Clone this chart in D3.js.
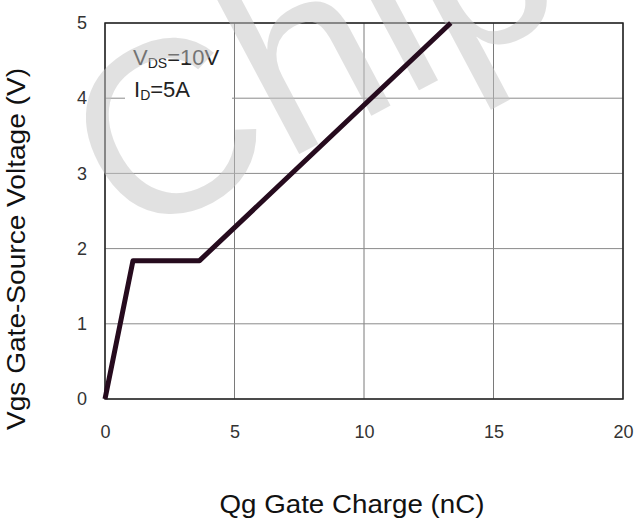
<!DOCTYPE html>
<html>
<head>
<meta charset="utf-8">
<script src="https://cdn.jsdelivr.net/npm/d3@7"></script>
<style>
  body { margin: 0; background: #fff; }
  text { font-family: "Liberation Sans", Arial, sans-serif; }
</style>
</head>
<body>
<script>
// gate charge curve
var qg = [0, 1.08, 3.65, 13.35];
var vgs = [0, 1.84, 1.84, 5];
var xTicks = [0, 5, 10, 15, 20];
var yTicks = [0, 1, 2, 3, 4, 5];

var width = 636, height = 520;
var margin = {top: 23, right: 13, bottom: 121, left: 105};

var svg = d3.select("body")
            .append("svg")
            .attr("width", width)
            .attr("height", height);

var x = d3.scaleLinear().domain([0, 20]).range([margin.left, width - margin.right]);
var y = d3.scaleLinear().domain([0, 5]).range([height - margin.bottom, margin.top]);

// grid
svg.append("g")
   .selectAll("line")
   .data(xTicks)
   .enter()
   .append("line")
   .attr("x1", function(d) {return x(d)})
   .attr("x2", function(d) {return x(d)})
   .attr("y1", y(0))
   .attr("y2", y(5))
   .style("stroke", "#7a7a7a")
   .style("stroke-width", 1);

svg.append("g")
   .selectAll("line")
   .data(yTicks)
   .enter()
   .append("line")
   .attr("x1", x(0))
   .attr("x2", x(20))
   .attr("y1", function(d) {return y(d)})
   .attr("y2", function(d) {return y(d)})
   .style("stroke", "#8a8a8a")
   .style("stroke-width", 1);

// white box behind the test conditions
svg.append("rect")
   .attr("x", 125)
   .attr("y", y(5) + 1)
   .attr("width", 107)
   .attr("height", 77)
   .style("fill", "#fff");

// frame
svg.append("rect")
   .attr("x", x(0))
   .attr("y", y(5))
   .attr("width", x(20) - x(0))
   .attr("height", y(0) - y(5))
   .style("fill", "none")
   .style("stroke", "#222")
   .style("stroke-width", 1.5);

// conditions
var note = svg.append("g").style("font-size", "22px").style("fill", "#222");
var t1 = note.append("text").attr("x", 133).attr("y", 65);
t1.append("tspan").text("V");
t1.append("tspan").attr("dy", 3).style("font-size", "14px").text("DS");
t1.append("tspan").attr("dy", -3).text("=10V");
var t2 = note.append("text").attr("x", 134).attr("y", 97);
t2.append("tspan").text("I");
t2.append("tspan").attr("dy", 3).style("font-size", "14px").text("D");
t2.append("tspan").attr("dy", -3).text("=5A");

// watermark
svg.append("text")
   .attr("x", 128)
   .attr("y", 245)
   .attr("transform", "rotate(-28, 128, 245)")
   .style("font-size", "245px")
   .style("fill", "#c4c4c4")
   .style("opacity", 0.5)
   .text("Chip");

// curve
var line = d3.line()
             .x(function(d) {return x(d[0])})
             .y(function(d) {return y(d[1])});

svg.append("path")
   .datum(qg.map(function(d, i) {return [d, vgs[i]]}))
   .attr("d", line)
   .style("fill", "none")
   .style("stroke", "#260b1e")
   .style("stroke-width", 5)
   .style("stroke-linejoin", "round");

// axes
var xAxis = d3.axisBottom(x).tickValues(xTicks).tickSize(0).tickPadding(26).tickFormat(d3.format("d"));
var yAxis = d3.axisLeft(y).tickValues(yTicks).tickSize(0).tickPadding(18).tickFormat(d3.format("d"));

svg.append("g")
   .attr("transform", "translate(0," + y(0) + ")")
   .call(xAxis)
   .call(function(g) {g.select(".domain").remove()})
   .selectAll("text")
   .style("font-size", "18px")
   .style("fill", "#333");

svg.append("g")
   .attr("transform", "translate(" + x(0) + ",0)")
   .call(yAxis)
   .call(function(g) {g.select(".domain").remove()})
   .selectAll("text")
   .style("font-size", "18px")
   .style("fill", "#333");

// axis titles
svg.append("text")
   .attr("x", 352)
   .attr("y", 513)
   .attr("text-anchor", "middle")
   .attr("textLength", 265)
   .attr("lengthAdjust", "spacingAndGlyphs")
   .style("font-size", "26px")
   .style("fill", "#111")
   .text("Qg Gate Charge (nC)");

svg.append("text")
   .attr("transform", "translate(25,249) rotate(-90)")
   .attr("text-anchor", "middle")
   .attr("textLength", 362)
   .attr("lengthAdjust", "spacingAndGlyphs")
   .style("font-size", "26px")
   .style("fill", "#111")
   .text("Vgs Gate-Source Voltage (V)");
</script>
</body>
</html>
